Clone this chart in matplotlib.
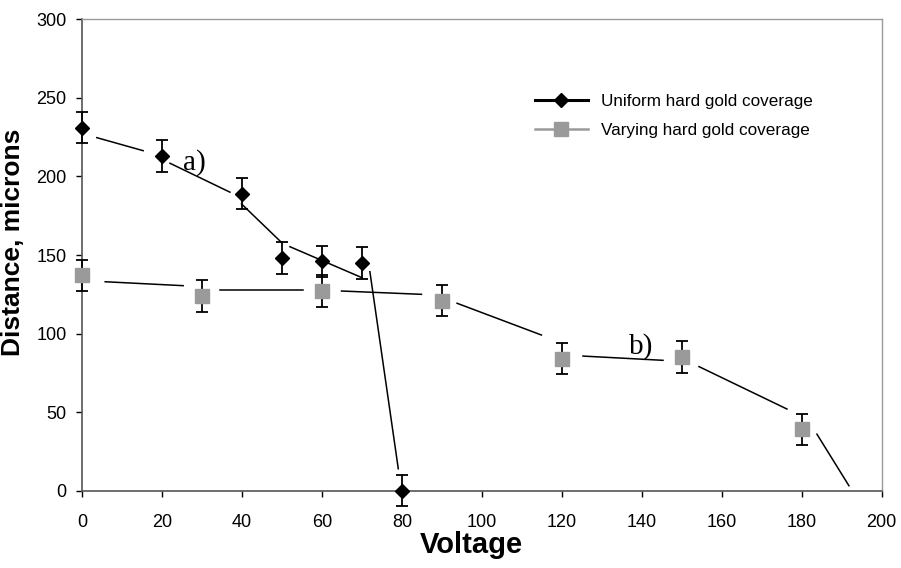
#!/usr/bin/env python3
import numpy as np
import matplotlib.pyplot as plt
from matplotlib.lines import Line2D

plt.rcParams["font.family"] = ["Liberation Sans", "DejaVu Sans"]

# measured points (error bars +-10)
volt_a = [0, 20, 40, 50, 60, 70, 80]
dist_a = [231, 213, 189, 148, 146, 145, 0]
err_a = [10, 10, 10, 10, 10, 10, 10]

volt_b = [0, 30, 60, 90, 120, 150, 180]
dist_b = [137, 124, 127, 121, 84, 85, 39]
err_b = [10, 10, 10, 10, 10, 10, 10]

# hand drawn trend segments (start x, start y, end x, end y)
seg_a_x0 = [3.7, 22, 39.9, 52, 72]
seg_a_y0 = [224.7, 208.4, 182.5, 155.3, 139.4]
seg_a_x1 = [15.3, 37, 49.9, 70, 79.1]
seg_a_y1 = [216.4, 190, 158, 135.6, 14]

seg_b_x0 = [5.8, 34.5, 64.9, 93.8, 125.3, 154.3, 183.8]
seg_b_y0 = [133, 127.8, 127.1, 119.3, 85.7, 79, 36]
seg_b_x1 = [25.3, 55.3, 84.9, 114.9, 145.3, 176.3, 191.8]
seg_b_y1 = [130.5, 127.8, 125, 99.1, 83, 52, 3.2]

labels = ["Uniform hard gold coverage", "Varying hard gold coverage"]
sq_color = "#9a9a9a"

fig = plt.figure(figsize=(9.01, 5.68), dpi=100)
ax = fig.add_axes([0.091, 0.136, 0.8876, 0.83])

for x0, y0, x1, y1 in zip(seg_a_x0, seg_a_y0, seg_a_x1, seg_a_y1):
    ax.plot([x0, x1], [y0, y1], color="black", lw=1.1, zorder=2)
for x0, y0, x1, y1 in zip(seg_b_x0, seg_b_y0, seg_b_x1, seg_b_y1):
    ax.plot([x0, x1], [y0, y1], color="black", lw=1.1, zorder=2)

ax.errorbar(volt_b, dist_b, yerr=err_b, fmt="s", ms=10.5, mfc=sq_color, mec=sq_color,
            ecolor="black", elinewidth=1.3, capsize=4, capthick=1.3, zorder=3, clip_on=False)
ax.errorbar(volt_a, dist_a, yerr=err_a, fmt="D", ms=7, mfc="black", mec="black",
            ecolor="black", elinewidth=1.3, capsize=4, capthick=1.3, zorder=4, clip_on=False)

ax.text(25.3, 208.6, "a)", family="Liberation Serif", fontsize=21, va="center", ha="left")
ax.text(136.8, 91.7, "b)", family="Liberation Serif", fontsize=21, va="center", ha="left")

ax.set_xlim(0, 200)
ax.set_ylim(0, 300)
ax.set_xticks(np.arange(0, 201, 20))
ax.set_yticks(np.arange(0, 301, 50))
ax.tick_params(direction="out", length=4, width=1, labelsize=13)
ax.tick_params(axis="x", pad=13)
ax.tick_params(axis="y", pad=7)
for side in ["left", "bottom"]:
    ax.spines[side].set_color("#555555")
    ax.spines[side].set_linewidth(1.2)
for side in ["top", "right"]:
    ax.spines[side].set_color("#999999")
    ax.spines[side].set_linewidth(1)

ax.set_xlabel("Voltage", fontsize=21, fontweight="bold")
ax.xaxis.set_label_coords(0.487, -0.0855)
ax.set_ylabel("Distance, microns", fontsize=19, fontweight="bold")
ax.yaxis.set_label_coords(-0.0713, 0.5265)

handles = [Line2D([], [], color="black", lw=2.2, marker="D", ms=7, mfc="black"),
           Line2D([], [], color=sq_color, lw=1.8, marker="s", ms=10, mfc=sq_color, mec=sq_color)]
ax.legend(handles, labels, loc="upper left", bbox_to_anchor=(0.566, 0.8426), frameon=False,
          fontsize=12.3, handlelength=3.1, handletextpad=0.8, labelspacing=0.85,
          borderpad=0, borderaxespad=0)

fig.savefig("out.png", dpi=100)
